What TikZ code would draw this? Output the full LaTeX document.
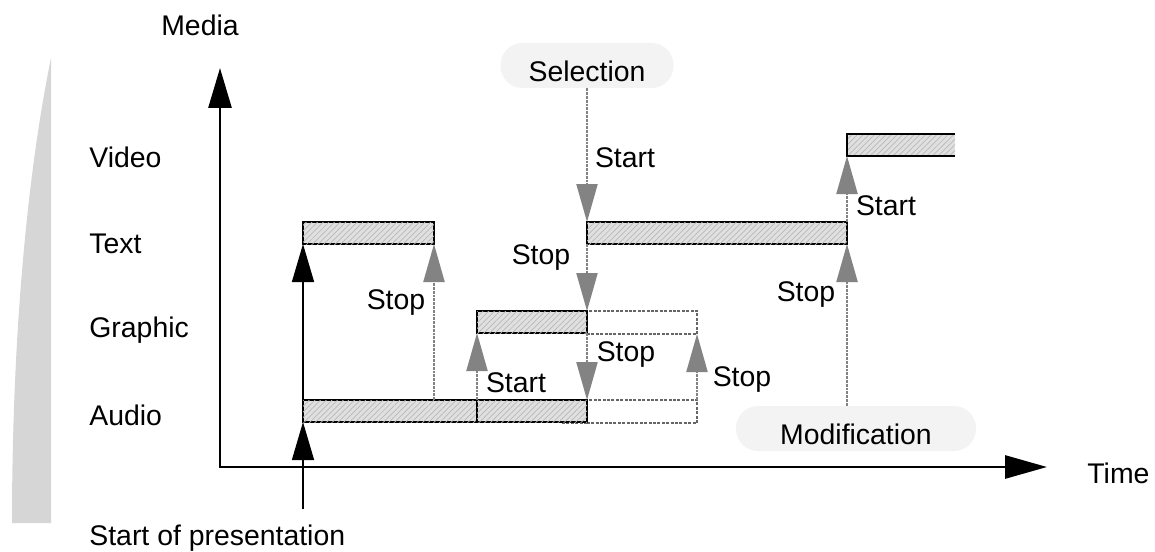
\documentclass[tikz,border=0pt]{standalone}
\usepackage{fontspec}
\setmainfont{Liberation Sans}
\usetikzlibrary{arrows.meta,patterns.meta,calc}
\definecolor{bubblefill}{HTML}{F3F3F3}
\definecolor{arrgray}{HTML}{838383}
\definecolor{shadegray}{HTML}{D6D6D6}
\begin{document}
\begin{tikzpicture}[x=0.5pt,y=-0.5pt,
  lbl/.style={font=\fontsize{14.2}{16}\selectfont, inner sep=0pt},
  bar/.style={draw, line width=0.8pt, fill=black!12, inner sep=0pt, outer sep=0pt,
    minimum height=11pt, anchor=north west,
    postaction={pattern={Lines[angle=45,distance=2pt,line width=0.35pt]}, pattern color=black!28}},
  openbar/.style={fill=black!12, inner sep=0pt, outer sep=0pt,
    minimum height=11pt, anchor=north west,
    postaction={pattern={Lines[angle=45,distance=2pt,line width=0.35pt]}, pattern color=black!28}},
  dbox/.style={draw=black!60, line width=0.7pt, dash pattern=on 1.5pt off 0.7pt,
    inner sep=0pt, outer sep=0pt, minimum height=11.5pt, anchor=north west},
  bubble/.style={fill=bubblefill, rounded corners=11pt, inner sep=0pt,
    text height=16pt, text depth=0pt,
    font=\fontsize{14.2}{16}\selectfont},
  blk/.style={line width=0.7pt, -{Triangle[length=19pt,width=11pt]}},
  gar/.style={line width=1.1pt, arrgray, dash pattern=on 1.4pt off 0.5pt,
    -{Triangle[length=19pt,width=10.5pt]}},
  axis/.style={line width=1.4pt, {Triangle[length=20pt,width=11.5pt]}-{Triangle[length=21pt,width=11.5pt]}}
]
\useasboundingbox (0,0) rectangle (1155,551);

% decorative shade at left
\fill[shadegray] (51,58) .. controls (30,160) and (12,320) .. (12,523) -- (51,523) -- cycle;

% axes
\coordinate (origin) at (220,467);
\coordinate (ytop) at (220,68);
\coordinate (xend) at (1047,467);
\draw[axis] (ytop) -- (origin) -- (xend);

% axis labels
\node[lbl] (media) at (200,25) {Media};
\node[lbl, anchor=west] (time) at (1087,473) {Time};
\node[lbl, anchor=west] (video-l) at (89,157) {Video};
\node[lbl, anchor=west] (text-l) at (89,244) {Text};
\node[lbl, anchor=west] (graphic-l) at (89,330) {Graphic};
\node[lbl, anchor=west] (audio-l) at (89,415) {Audio};
\node[lbl, anchor=west] (sop) at (89,538) {Start of presentation};

% bubbles
\node[bubble, minimum width=86.5pt, minimum height=22.5pt] (sel) at (587,65.5) {Selection};
\node[bubble, minimum width=120pt, minimum height=22.5pt] (mod) at (856,428.5) {Modification};

% dashed extensions
\node[dbox, minimum width=55pt] (gext) at (587,311) {};
\node[dbox, minimum width=55pt] (aext) at (587,400) {};
\draw[draw=black!60, line width=0.7pt, dash pattern=on 1.5pt off 0.7pt] (aext.south west) -- ++(-25,0);

% bars
\node[bar, minimum width=65.5pt] (text1) at (303,222) {};
\node[bar, minimum width=87pt] (audio1) at (303,400) {};
\node[bar, minimum width=55pt] (audio2) at (477,400) {};
\node[bar, minimum width=55pt] (graphic) at (477,311) {};
\node[bar, minimum width=130pt] (text2) at (587,222) {};
\node[openbar, minimum width=54pt] (video) at (847,134) {};
\draw[line width=0.8pt] (video.north east) -- (video.north west) -- (video.south west) -- (video.south east);

% arrows
\coordinate (sp) at (303,509);
\draw[blk] (sp) -- (audio1.south west);
\draw[blk] (audio1.north west) -- (text1.south west);
\draw[gar] (text1.south east |- audio1.north) -- (text1.south east);
\draw[gar] (audio2.north west) -- (graphic.south west);
\draw[gar] (sel.south) -- (sel.south |- text2.north);
\draw[gar] (text2.south west) -- (graphic.north east);
\draw[gar] (graphic.south east) -- (audio2.north east);
\draw[gar] (aext.north east) -- (gext.south east);
\draw[gar] (mod.north -| text2.south east) -- (text2.south east);
\draw[gar] (text2.north east) -- (video.south west);

% arrow labels
\node[lbl] (l-selstart) at (625,158) {Start};
\node[lbl] (l-stop1) at (541,258) {Stop};
\node[lbl] (l-stop2) at (396,303) {Stop};
\node[lbl] (l-start2) at (516,383) {Start};
\node[lbl] (l-stop3) at (626,355) {Stop};
\node[lbl] (l-stop4) at (742,380) {Stop};
\node[lbl] (l-stop5) at (806,295) {Stop};
\node[lbl] (l-start3) at (886,206) {Start};
\end{tikzpicture}
\end{document}
